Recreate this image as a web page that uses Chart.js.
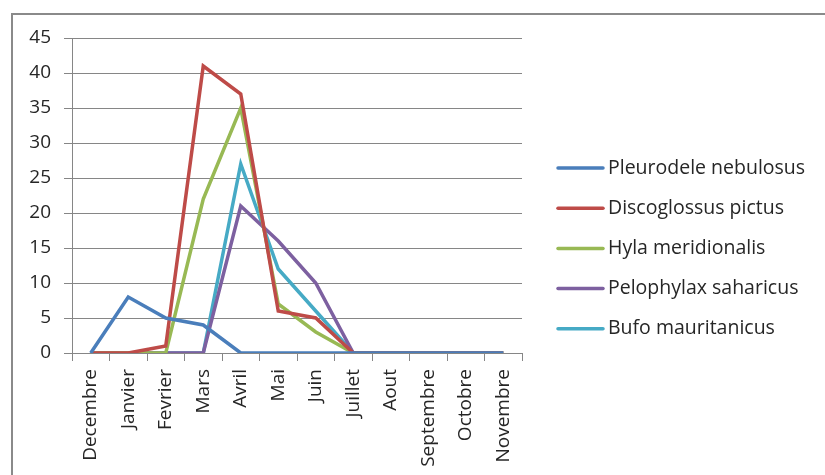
<!DOCTYPE html>
<html>
<head>
<meta charset="utf-8">
<script src="https://cdn.jsdelivr.net/npm/chart.js@4/dist/chart.umd.min.js"></script>
<style>
  html, body { margin: 0; padding: 0; background: #ffffff; }
  #wrap { width: 825px; height: 475px; }
</style>
</head>
<body>
<div id="wrap"><canvas id="c" width="825" height="475"></canvas></div>
<script>
// Monthly counts per species
const months = ['Decembre', 'Janvier', 'Fevrier', 'Mars', 'Avril', 'Mai', 'Juin', 'Juillet', 'Aout', 'Septembre', 'Octobre', 'Novembre'];
const pleurodele   = [0, 8, 5, 4, 0, 0, 0, 0, 0, 0, 0, 0];
const discoglossus = [0, 0, 1, 41, 37, 6, 5, 0, 0, 0, 0, 0];
const hyla         = [0, 0, 0, 22, 35, 7, 3, 0, 0, 0, 0, 0];
const pelophylax   = [0, 0, 0, 0, 21, 16, 10, 0, 0, 0, 0, 0];
const bufo         = [0, 0, 0, 0, 27, 12, 6, 0, 0, 0, 0, 0];
const speciesNames = ['Pleurodele nebulosus', 'Discoglossus pictus', 'Hyla meridionalis', 'Pelophylax saharicus', 'Bufo mauritanicus'];
const yTicks = [0, 5, 10, 15, 20, 25, 30, 35, 40, 45];

const colors = ['#4a7ebb', '#be4b48', '#98b954', '#7d60a0', '#46aac5'];
const FONT = '"Open Sans", sans-serif';
const TEXT = '#262626';

const series = [pleurodele, discoglossus, hyla, pelophylax, bufo];

// Outer frame around the whole figure
const framePlugin = {
  id: 'frame',
  beforeDraw(chart) {
    const ctx = chart.ctx;
    ctx.save();
    ctx.fillStyle = '#ffffff';
    ctx.fillRect(0, 0, chart.width, chart.height);
    ctx.strokeStyle = '#8a8a8a';
    ctx.lineWidth = 2;
    ctx.strokeRect(12, 14, chart.width + 20, chart.height + 20);
    ctx.restore();
  }
};

// Legend on the right: short line then species name
const sideLegend = {
  id: 'sideLegend',
  afterDraw(chart) {
    const ctx = chart.ctx;
    ctx.save();
    ctx.font = '19.5px ' + FONT;
    ctx.textBaseline = 'middle';
    ctx.textAlign = 'left';
    chart.data.datasets.forEach((ds, i) => {
      const y = 168 + i * 40.2;
      ctx.strokeStyle = ds.borderColor;
      ctx.lineWidth = 3.5;
      ctx.lineCap = 'round';
      ctx.beginPath();
      ctx.moveTo(558, y);
      ctx.lineTo(603, y);
      ctx.stroke();
      ctx.fillStyle = TEXT;
      ctx.fillText(ds.label, 608, y);
    });
    ctx.restore();
  }
};

new Chart(document.getElementById('c'), {
  type: 'line',
  data: {
    labels: months,
    datasets: series.map((d, i) => ({
      label: speciesNames[i],
      data: d,
      borderColor: colors[i],
      backgroundColor: colors[i],
      borderWidth: 3.5,
      pointRadius: 0,
      tension: 0,
      fill: false
    }))
  },
  options: {
    responsive: false,
    animation: false,
    devicePixelRatio: 1,
    layout: { padding: { left: 0, top: 38, right: 303, bottom: 0 } },
    plugins: { legend: { display: false }, tooltip: { enabled: false } },
    scales: {
      x: {
        type: 'category',
        offset: true,
        afterFit(scale) { scale.height = 122; },
        grid: {
          offset: true,
          drawOnChartArea: false,
          drawTicks: true,
          tickLength: 8,
          color: '#868686'
        },
        border: { display: true, color: '#868686', width: 1 },
        ticks: {
          autoSkip: false,
          minRotation: 90,
          maxRotation: 90,
          padding: 8,
          color: TEXT,
          font: { family: FONT, size: 19 }
        }
      },
      y: {
        min: 0,
        max: 45,
        afterFit(scale) { scale.width = 72; },
        afterBuildTicks(scale) { scale.ticks = yTicks.map(v => ({ value: v })); },
        grid: {
          color: '#868686',
          lineWidth: 1,
          drawTicks: true,
          tickLength: 8,
          tickColor: '#868686'
        },
        border: { display: true, color: '#868686', width: 1 },
        ticks: {
          padding: 13,
          color: TEXT,
          font: { family: FONT, size: 19 }
        }
      }
    }
  },
  plugins: [framePlugin, sideLegend]
});
</script>
</body>
</html>
